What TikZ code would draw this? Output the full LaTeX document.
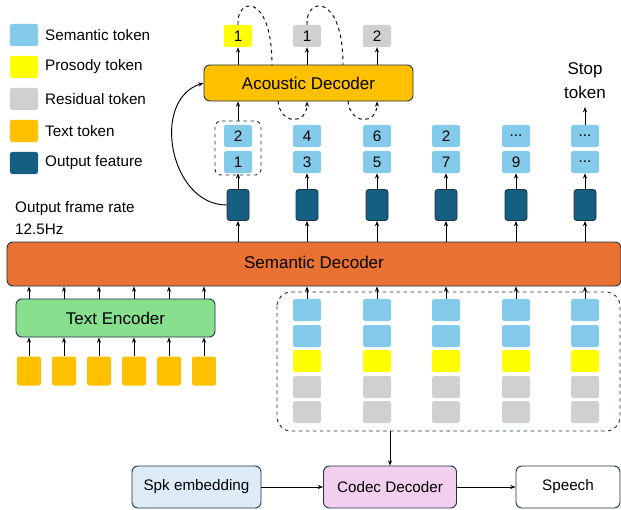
\documentclass[tikz,border=0pt]{standalone}
\usepackage{fontspec}
\setmainfont{Liberation Sans}
\usetikzlibrary{arrows.meta}

\definecolor{semblue}{HTML}{83CAEB}
\definecolor{prosyellow}{HTML}{FFFF00}
\definecolor{resgray}{HTML}{D0D0D0}
\definecolor{txtorange}{HTML}{FFC000}
\definecolor{featteal}{HTML}{156082}
\definecolor{semorange}{HTML}{E97132}
\definecolor{encgreen}{HTML}{88DF8E}
\definecolor{spkblue}{HTML}{DDEBF7}
\definecolor{codecpink}{HTML}{F2CFEE}
\definecolor{edgenavy}{HTML}{1B3446}

\tikzset{
  token/.style={rounded corners=2pt, minimum width=0.84cm, minimum height=0.66cm,
    inner sep=0pt, font=\fontsize{13pt}{15pt}\selectfont},
  feat/.style={fill=featteal, draw=edgenavy, line width=0.8pt, rounded corners=2.5pt,
    minimum width=0.66cm, minimum height=0.93cm, inner sep=0pt},
  txttok/.style={fill=txtorange, rounded corners=2pt, minimum width=0.72cm,
    minimum height=0.87cm, inner sep=0pt},
  block/.style={draw=edgenavy, line width=0.8pt, rounded corners=5pt, inner sep=0pt,
    font=\fontsize{14.5pt}{17pt}\selectfont},
  smallblock/.style={draw=edgenavy, line width=0.8pt, rounded corners=5pt, inner sep=0pt,
    minimum height=1.26cm, font=\fontsize{13pt}{15pt}\selectfont},
  legend/.style={anchor=west, inner sep=0pt, font=\fontsize{13pt}{15pt}\selectfont},
  arr/.style={-{Stealth[length=4.5pt,width=3.5pt]}, line width=0.8pt},
  loop/.style={dashed, line width=0.8pt, draw=black}
}

\begin{document}
\begin{tikzpicture}[x=0.03cm, y=-0.03cm]

  \useasboundingbox (0,0) rectangle (621,510);

  % legend
  \node[token, fill=semblue] (legsem) at (24,35) {};
  \node[legend] at (45,35) {Semantic token};
  \node[token, fill=prosyellow] (legpros) at (24,67) {};
  \node[legend] at (45,67) {Prosody token};
  \node[token, fill=resgray] (legres) at (24,99) {};
  \node[legend] at (45,99) {Residual token};
  \node[token, fill=txtorange] (legtxt) at (24,131) {};
  \node[legend] at (45,131) {Text token};
  \node[token, fill=featteal] (legfeat) at (24,163) {};
  \node[legend] at (45,163) {Output feature};

  \node[legend] (rate) at (15,209) {Output frame rate};
  \node[legend] (hz) at (15,229) {12.5Hz};

  % acoustic decoder
  \node[block, fill=txtorange, minimum width=6.27cm, minimum height=1.08cm]
    (acoustic) at (308.5,83) {Acoustic Decoder};

  \node[token, fill=prosyellow] (out1) at (238,36) {1};
  \node[token, fill=resgray] (out2) at (307,36) {1};
  \node[token, fill=resgray] (out3) at (377,36) {2};

  \draw[arr] (acoustic.north -| out1) -- (out1);
  \draw[arr] (acoustic.north -| out2) -- (out2);
  \draw[arr] (acoustic.north -| out3) -- (out3);

  \coordinate (loopAin) at (272,65);
  \coordinate (loopAout) at (278,101);
  \coordinate (loopBin) at (343,65);
  \coordinate (loopBout) at (348,101);
  \draw[loop] (out1.north) .. controls (236,-3) and (272,-8) .. (loopAin);
  \draw[loop, arr, dashed] (loopAout) .. controls (280,125) and (307,125) .. (acoustic.south -| out2);
  \draw[loop] (out2.north) .. controls (305,-3) and (343,-8) .. (loopBin);
  \draw[loop, arr, dashed] (loopBout) .. controls (350,125) and (377,125) .. (acoustic.south -| out3);

  % semantic tokens
  \node[token, fill=semblue] (s1a) at (238,136) {2};
  \node[token, fill=semblue] (s1b) at (238,162) {1};
  \node[token, fill=semblue] (s2a) at (307,136) {4};
  \node[token, fill=semblue] (s2b) at (307,162) {3};
  \node[token, fill=semblue] (s3a) at (377,136) {6};
  \node[token, fill=semblue] (s3b) at (377,162) {5};
  \node[token, fill=semblue] (s4a) at (446,136) {2};
  \node[token, fill=semblue] (s4b) at (446,162) {7};
  \node[token, fill=semblue] (s5a) at (516,136) {...};
  \node[token, fill=semblue] (s5b) at (516,162) {9};
  \node[token, fill=semblue] (s6a) at (585,136) {...};
  \node[token, fill=semblue] (s6b) at (585,162) {...};

  \draw[dashed, draw=edgenavy, line width=0.8pt, rounded corners=5pt]
    (215,121) rectangle (261,175);
  \coordinate (grptop) at (238,121);
  \draw[arr] (grptop) -- (acoustic.south -| grptop);

  \node[legend, anchor=center, font=\fontsize{14.5pt}{17pt}\selectfont] (stop) at (585,70) {Stop};
  \node[legend, anchor=center, font=\fontsize{14.5pt}{17pt}\selectfont] (stoptok) at (585,92) {token};
  \coordinate (stopend) at (585,107);
  \draw[arr] (s6a.north) -- (stopend);

  % output features
  \foreach \i/\x in {1/238, 2/307, 3/377, 4/446, 5/516, 6/585} {
    \node[feat] (f\i) at (\x,205) {};
    \draw[arr] (f\i.north) -- (s\i b.south);
  }

  \draw[arr] (f1.west) .. controls (170,205) and (150,100) .. (acoustic.west);

  % semantic decoder
  \node[block, fill=semorange, minimum width=18.42cm, minimum height=1.32cm]
    (semantic) at (314,264) {};
  \node[font=\fontsize{14.5pt}{17pt}\selectfont] (semlabel) at (314,262) {Semantic Decoder};

  \foreach \i in {1,...,6} {
    \draw[arr] (semantic.north -| f\i) -- (f\i.south);
  }

  % text encoder
  \node[block, fill=encgreen, minimum width=5.97cm, minimum height=1.14cm]
    (encoder) at (115.5,318) {Text Encoder};

  \foreach \i/\x in {1/29, 2/64, 3/99, 4/134, 5/169, 6/204} {
    \node[txttok] (t\i) at (\x,371) {};
    \draw[arr] (t\i.north) -- (encoder.south -| t\i);
    \draw[arr] (encoder.north -| t\i) -- (semantic.south -| t\i);
  }

  % codec tokens
  \draw[dashed, draw=edgenavy, line width=0.8pt, rounded corners=12pt]
    (277,292) rectangle (620,431);
  \foreach \i/\x in {1/307, 2/377, 3/446, 4/516, 5/585} {
    \node[token, fill=semblue] (c\i a) at (\x,310) {};
    \node[token, fill=semblue] (c\i b) at (\x,336) {};
    \node[token, fill=prosyellow] (c\i c) at (\x,361) {};
    \node[token, fill=resgray] (c\i d) at (\x,387) {};
    \node[token, fill=resgray] (c\i e) at (\x,412) {};
    \draw[arr] (c\i a.north) -- (semantic.south -| c\i a);
  }

  % bottom row
  \node[smallblock, fill=spkblue, minimum width=3.87cm] (spk) at (196.5,487) {Spk embedding};
  \node[smallblock, fill=codecpink, minimum width=3.99cm] (codec) at (390,487) {Codec Decoder};
  \node[smallblock, fill=white, minimum width=3.12cm] (speech) at (568,487) {Speech};

  \coordinate (boxbottom) at (390,431);
  \draw[arr] (boxbottom) -- (codec.north);
  \draw[arr] (spk) -- (codec);
  \draw[arr] (codec) -- (speech);

\end{tikzpicture}
\end{document}
